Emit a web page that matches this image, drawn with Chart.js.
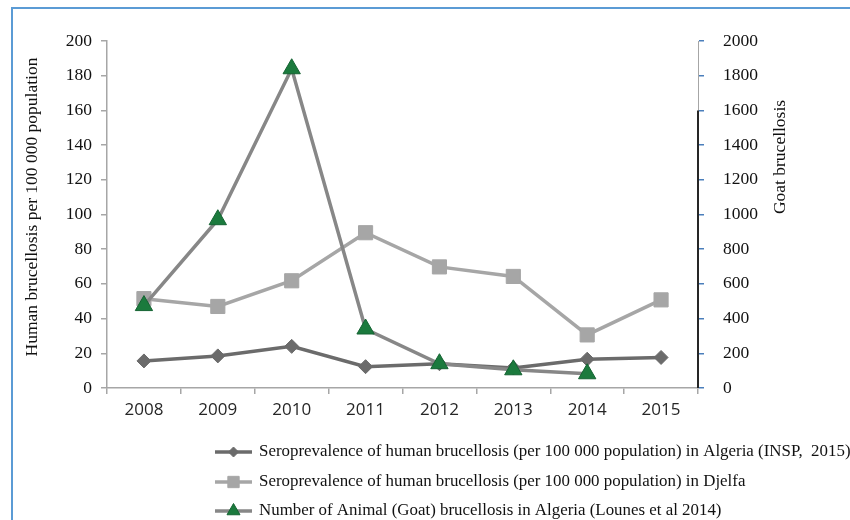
<!DOCTYPE html>
<html>
<head>
<meta charset="utf-8">
<script src="https://cdn.jsdelivr.net/npm/chart.js@4/dist/chart.umd.min.js"></script>
<style>
    html, body { margin: 0; padding: 0; background: #fff; }
    #wrap { position: relative; width: 850px; height: 520px; overflow: hidden; }
    #frame {
        position: absolute; left: 11px; top: 7px; width: 900px; height: 600px;
        border-top: 2px solid #5b9bd5; border-left: 2px solid #5b9bd5;
    }
    #chart { position: absolute; left: 0; top: 0; }
</style>
</head>
<body>
<div id="wrap">
    <div id="frame"></div>
    <canvas id="chart" width="850" height="520"></canvas>
</div>
<script>
document.addEventListener("DOMContentLoaded", () => {

    // ---------------- DATA ----------------
    const years = ["2008", "2009", "2010", "2011", "2012", "2013", "2014", "2015"];
    const algeriaRates = [15.6, 18.5, 24, 12.3, 14, 11.6, 16.6, 17.6];
    const djelfaRates = [51.5, 47, 61.8, 89.5, 69.8, 64.3, 30.6, 50.8];
    const goatCases = [475, 970, 1840, 340, 140, 105, 82];

    const seriesLabels = [
        "Seroprevalence of human brucellosis (per 100 000 population) in Algeria (INSP,  2015)",
        "Seroprevalence of human brucellosis (per 100 000 population) in Djelfa",
        "Number of Animal (Goat) brucellosis in Algeria (Lounes et al 2014)"
    ];
    const leftTitle = "Human brucellosis per 100 000 population";
    const rightTitle = "Goat brucellosis";

    const serif = "'Liberation Serif', 'Times New Roman', serif";
    const axisGray = "#a6a6a6";
    const textColor = "#111";

    // legend + axis titles + the odd dark piece of the right axis
    const extras = {
        id: "extras",
        afterDatasetsDraw(chart) {
            const ctx = chart.ctx;
            const y1 = chart.scales.y1;
            const area = chart.chartArea;

            ctx.save();
            ctx.strokeStyle = "#262626";
            ctx.lineWidth = 2;
            ctx.beginPath();
            ctx.moveTo(y1.left, y1.getPixelForValue(1600));
            ctx.lineTo(y1.left, y1.getPixelForValue(0));
            ctx.stroke();

            ctx.fillStyle = textColor;
            ctx.font = "17.5px " + serif;
            ctx.textAlign = "center";
            ctx.textBaseline = "middle";

            ctx.save();
            ctx.translate(32, area.top + 166);
            ctx.rotate(-Math.PI / 2);
            ctx.fillText(leftTitle, 0, 0);
            ctx.restore();

            ctx.save();
            ctx.translate(780, area.top + 116);
            ctx.rotate(-Math.PI / 2);
            ctx.fillText(rightTitle, 0, 0);
            ctx.restore();

            const legendOrder = [0, 1, 2];
            const rowY = [452, 482, 511];
            const legendRadius = [5, 8, 7.5];
            legendOrder.forEach((idx, row) => {
                const ds = chart.data.datasets[idx];
                const y = rowY[row];
                ctx.strokeStyle = ds.borderColor;
                ctx.lineWidth = 3.5;
                ctx.beginPath();
                ctx.moveTo(215, y);
                ctx.lineTo(252, y);
                ctx.stroke();

                ctx.fillStyle = ds.pointBackgroundColor;
                ctx.strokeStyle = ds.pointBorderColor;
                ctx.lineWidth = ds.pointBorderWidth;
                Chart.helpers.drawPoint(ctx, {
                    pointStyle: ds.pointStyle,
                    radius: legendRadius[row],
                    rotation: 0,
                    borderWidth: ds.pointBorderWidth
                }, 233.5, y);

                ctx.fillStyle = textColor;
                ctx.font = "16.9px " + serif;
                ctx.textAlign = "left";
                ctx.fillText(seriesLabels[idx], 259, y);
            });
            ctx.restore();
        }
    };

    new Chart(document.getElementById("chart"), {
        type: "line",
        data: {
            labels: years,
            datasets: [{
                label: seriesLabels[0],
                data: algeriaRates,
                yAxisID: "y",
                borderColor: "#6b6b6b",
                borderWidth: 3.5,
                pointStyle: "rectRot",
                pointRadius: 7,
                pointBackgroundColor: "#6b6b6b",
                pointBorderColor: "#6b6b6b",
                pointBorderWidth: 1,
                tension: 0,
                order: 2
            }, {
                label: seriesLabels[1],
                data: djelfaRates,
                yAxisID: "y",
                borderColor: "#a6a6a6",
                borderWidth: 3.5,
                pointStyle: "rect",
                pointRadius: 10,
                pointBackgroundColor: "#a6a6a6",
                pointBorderColor: "#a6a6a6",
                pointBorderWidth: 1,
                tension: 0,
                order: 1
            }, {
                label: seriesLabels[2],
                data: goatCases,
                yAxisID: "y1",
                borderColor: "#878787",
                borderWidth: 3.5,
                pointStyle: "triangle",
                pointRadius: 10,
                pointBackgroundColor: "#1b7a3d",
                pointBorderColor: "#146332",
                pointBorderWidth: 1,
                tension: 0,
                order: 0
            }]
        },
        options: {
            responsive: false,
            animation: false,
            layout: {
                padding: { top: 41, left: 0, right: 0, bottom: 0 }
            },
            plugins: {
                legend: { display: false },
                tooltip: { enabled: false }
            },
            scales: {
                x: {
                    offset: true,
                    grid: {
                        offset: true,
                        drawOnChartArea: false,
                        drawTicks: true,
                        tickLength: 6,
                        color: axisGray,
                        lineWidth: 1.5
                    },
                    border: { color: axisGray, width: 1.5 },
                    ticks: {
                        color: "#262626",
                        padding: 6,
                        font: { family: "'Open Sans', sans-serif", size: 17 }
                    },
                    afterFit(scale) { scale.height = 132; }
                },
                y: {
                    position: "left",
                    min: 0,
                    max: 200,
                    ticks: {
                        stepSize: 20,
                        color: textColor,
                        padding: 9,
                        font: { family: serif, size: 17.5 }
                    },
                    grid: {
                        drawOnChartArea: false,
                        tickLength: 6,
                        color: axisGray,
                        lineWidth: 1.5
                    },
                    border: { color: axisGray, width: 1.5 },
                    afterFit(scale) { scale.width = 107; }
                },
                y1: {
                    position: "right",
                    min: 0,
                    max: 2000,
                    ticks: {
                        stepSize: 200,
                        color: textColor,
                        padding: 19,
                        font: { family: serif, size: 17.5 },
                        callback: value => String(value)
                    },
                    grid: {
                        drawOnChartArea: false,
                        tickLength: 6,
                        color: "#4a7ebb",
                        lineWidth: 1.5
                    },
                    border: { color: axisGray, width: 1 },
                    afterFit(scale) { scale.width = 152; }
                }
            }
        },
        plugins: [extras]
    });

});
</script>
</body>
</html>
